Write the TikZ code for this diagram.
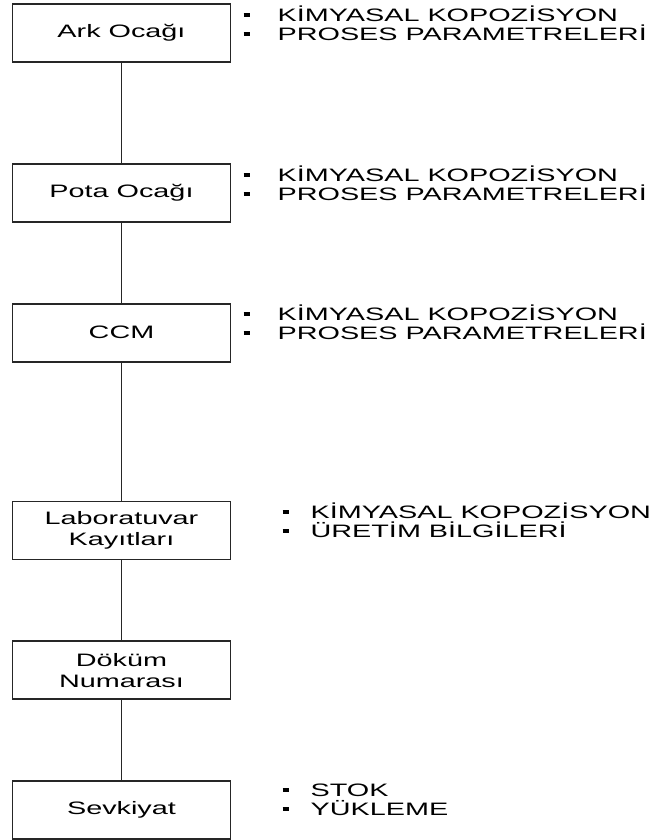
\documentclass[tikz,border=0pt]{standalone}
\usepackage{fontspec}
\setmainfont{Liberation Sans}[FakeStretch=1.6]
\usetikzlibrary{positioning}
\tikzset{stage/.style={
                       % The shape:
                       rectangle,minimum width=218pt,minimum height=58pt,
                       % The rest
                       draw=black!85,line width=1.8pt,align=center,
                       font=\fontsize{18}{21}\selectfont,
                       },
         notes/.style={
                       anchor=west,inner sep=0pt,align=left,
                       font=\fontsize{18}{19}\selectfont,
                       }}
\newcommand{\itm}[1][34pt]{\makebox[#1][l]{\rule[4.5pt]{6pt}{4pt}}}

\begin{document}
\begin{tikzpicture}[x=1pt,y=1pt,node distance=80pt]
  \useasboundingbox (0,0) rectangle (661,-840);
  % Boxes:
  \node (ark) [stage] at (121.5,-33) {Ark Ocağı};
  \node (pota) [stage,below=100pt of ark] {Pota Ocağı};
  \node (ccm) [stage,below=of pota] {CCM};
  \node (lab) [stage,below=138pt of ccm] {Laboratuvar\\Kayıtları};
  \node (dokum) [stage,below=of lab] {Döküm\\Numarası};
  \node (sevk) [stage,below=of dokum] {Sevkiyat};
  % Notes beside the boxes:
  \node (arknot) [notes] at ([xshift=12pt,yshift=10pt]ark.east)
    {\itm KİMYASAL KOPOZİSYON\\\itm PROSES PARAMETRELERİ};
  \node (potanot) [notes] at ([xshift=12pt,yshift=10pt]pota.east)
    {\itm KİMYASAL KOPOZİSYON\\\itm PROSES PARAMETRELERİ};
  \node (ccmnot) [notes] at ([xshift=12pt,yshift=10pt]ccm.east)
    {\itm KİMYASAL KOPOZİSYON\\\itm PROSES PARAMETRELERİ};
  \node (labnot) [notes] at ([xshift=51pt,yshift=10pt]lab.east)
    {\itm[28pt]KİMYASAL KOPOZİSYON\\\itm[28pt]ÜRETİM BİLGİLERİ};
  \node (sevknot) [notes] at ([xshift=51pt,yshift=10pt]sevk.east)
    {\itm[28pt]STOK\\\itm[28pt]YÜKLEME};
  % Connectors:
  \foreach \a/\b in {ark/pota,pota/ccm,ccm/lab,lab/dokum,dokum/sevk}
    \draw[line width=1.8pt,black!85] (\a) -- (\b);
\end{tikzpicture}
\end{document}
